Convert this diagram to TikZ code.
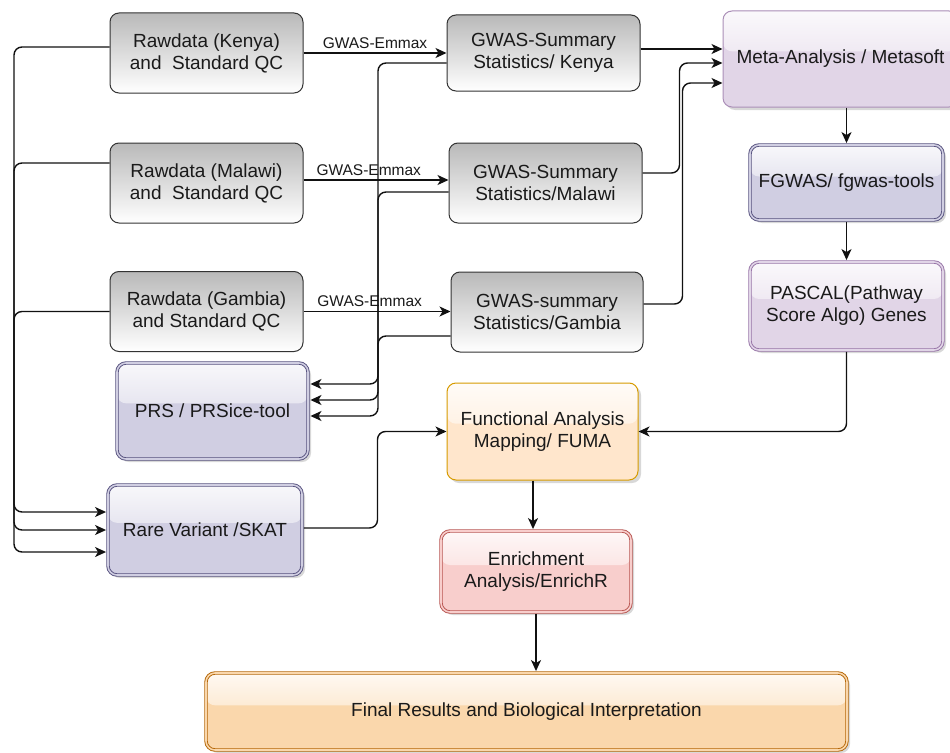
\documentclass[tikz,border=0pt]{standalone}
\usepackage{fontspec}
\setmainfont{Liberation Sans}
\usetikzlibrary{arrows.meta,calc,shadows}
\definecolor{grayline}{HTML}{333333}
\definecolor{txt}{HTML}{1A1A1A}
\definecolor{linec}{HTML}{111111}
\definecolor{lavf}{HTML}{D0CEE2}
\definecolor{lavl}{HTML}{56517E}
\definecolor{purf}{HTML}{E1D5E7}
\definecolor{purl}{HTML}{9673A6}
\definecolor{orf}{HTML}{FFE6CC}
\definecolor{orl}{HTML}{D79B00}
\definecolor{redf}{HTML}{F8CECC}
\definecolor{redl}{HTML}{B85450}
\definecolor{finf}{HTML}{FAD7AC}
\definecolor{finl}{HTML}{B46504}
\newcommand\nodefont{\fontsize{19}{22}\selectfont}
\newcommand\lblfont{\fontsize{15.5}{17}\selectfont}
\begin{document}
\begin{tikzpicture}[x=1pt,y=-1pt,
  box/.style={rectangle, rounded corners=9pt, line width=1pt, align=center, font=\nodefont, text=txt, inner sep=2pt},
  graybox/.style={box, draw=grayline, top color=gray!55, bottom color=white, minimum width=193pt, minimum height=80pt},
  glass/.style={fill=#1, path picture={\shade[top color=white!85!#1, bottom color=#1] (path picture bounding box.north west) rectangle ($(path picture bounding box.north east)!0.42!(path picture bounding box.south east)$);}},
  dbl/.style={double=#1, double distance=1.6pt, line width=0.9pt},
  shad/.style={drop shadow={shadow xshift=3pt, shadow yshift=-3pt, opacity=0.25, fill=black!60}},
  conn/.style={draw=linec, line width=1.4pt, rounded corners=8pt, -{Stealth[length=11pt,width=10pt,inset=3pt]}},
  lbl/.style={font=\lblfont, text=txt, inner sep=1pt}
]
\path[use as bounding box, fill=white] (0,0) rectangle (950,752);

% gray boxes
\node[graybox] (kraw) at (206.5,53) {Rawdata (Kenya)\\and\ \ Standard QC};
\node[graybox] (mraw) at (206.5,183) {Rawdata (Malawi)\\and\ \ Standard QC};
\node[graybox] (graw) at (206.5,311.5) {Rawdata (Gambia)\\and Standard QC};
\node[graybox, minimum height=76pt] (kgw) at (543.5,53) {GWAS-Summary\\Statistics/ Kenya};
\node[graybox] (mgw) at (545.5,183) {GWAS-Summary\\Statistics/Malawi};
\node[graybox, minimum width=192pt] (ggw) at (547,312) {GWAS-summary\\Statistics/Gambia};

% coloured boxes
\node[box, shad, glass=purf, draw=purl!80, minimum width=235pt, minimum height=96pt] (meta) at (840.5,59) {Meta-Analysis / Metasoft};
\node[box, shad, glass=lavf, draw=lavl, dbl=lavf, minimum width=193pt, minimum height=75pt] (fgwas) at (846.5,182.5) {FGWAS/ fgwas-tools};
\node[box, shad, glass=purf, draw=purl, dbl=purf, minimum width=193pt, minimum height=88pt] (pascal) at (846.5,306) {PASCAL(Pathway\\Score Algo) Genes};
\node[box, shad, glass=lavf, draw=lavl, dbl=lavf, minimum width=191pt, minimum height=96pt] (prs) at (212.5,411) {PRS / PRSice-tool};
\node[box, shad, glass=lavf, draw=lavl, dbl=lavf, minimum width=194pt, minimum height=90pt] (rare) at (205,530) {Rare Variant /SKAT};
\node[box, shad, glass=orf, draw=orl, minimum width=191pt, minimum height=97pt] (fuma) at (542.5,431.5) {Functional Analysis\\Mapping/ FUMA};
\node[box, shad, glass=redf, draw=redl, dbl=redf, minimum width=190pt, minimum height=81pt] (enrich) at (536,571.5) {Enrichment\\Analysis/EnrichR};
\node[box, shad, glass=finf, draw=finl, dbl=finf, minimum width=641pt, minimum height=77pt] (final) at (526.5,711.5) {Final Results and Biological Interpretation};

% GWAS-Emmax edges
\draw[conn] (kraw.east) -- node[lbl, above=3pt] {GWAS-Emmax} (kgw.west);
\coordinate (me1) at ([yshift=3pt]mraw.east);
\draw[conn] (me1) -- node[lbl, above=3pt, pos=0.45] {GWAS-Emmax} (me1 -| mgw.west);
\draw[conn] (graw.east) -- node[lbl, above=3pt, pos=0.45] {GWAS-Emmax} (graw.east -| ggw.west);

% left bus to Rare Variant
\coordinate (lbus) at (14,0);
\coordinate (r1) at ([xshift=-1.5pt,yshift=18pt]rare.west);
\coordinate (r2) at ([xshift=-1.5pt]rare.west);
\coordinate (r3) at ([xshift=-1.5pt,yshift=-22pt]rare.west);
\draw[conn] ([yshift=6pt]kraw.west) -| (lbus |- r3) -- (r3);
\draw[conn] ([yshift=20pt]mraw.west) -| (lbus |- r2) -- (r2);
\draw[conn] (graw.west) -| (lbus |- r1) -- (r1);

% summary stats to PRS
\coordinate (pbus) at (378,0);
\coordinate (p1) at ([xshift=2pt,yshift=27pt]prs.east);
\coordinate (p2) at ([xshift=2pt,yshift=11pt]prs.east);
\coordinate (p3) at ([xshift=2pt,yshift=-5pt]prs.east);
\draw[conn] ([yshift=-10pt]kgw.west) -| (pbus |- p1) -- (p1);
\draw[conn] ([yshift=-9pt]mgw.west) -| (pbus |- p2) -- (p2);
\draw[conn] ([yshift=-24pt]ggw.west) -| (pbus |- p3) -- (p3);

% summary stats to Meta
\coordinate (k1) at ([yshift=4pt]kgw.east);
\coordinate (m2) at ([yshift=-4pt]meta.west);
\coordinate (m3) at ([yshift=-24pt]meta.west);
\draw[conn] (k1) -- (k1 -| meta.west);
\draw[conn] ([yshift=10pt]mgw.east) -| ($(m2)+(-43,0)$) -- (m2);
\draw[conn] ([yshift=8pt]ggw.east) -| ($(m3)+(-40,0)$) -- (m3);

% right column
\draw[conn] (meta.south -| fgwas.north) -- ([yshift=1.5pt]fgwas.north);
\draw[conn] ([yshift=-1.5pt]fgwas.south) -- ([yshift=1.5pt]pascal.north);
\draw[conn] ([yshift=-1.5pt]pascal.south) |- (fuma.east);

% rare to FUMA
\coordinate (re) at ([xshift=1.5pt,yshift=2pt]rare.east);
\draw[conn] (re) -| ($(fuma.west)+(-69,0)$) -- (fuma.west);

% down the middle
\coordinate (fe) at ([xshift=-9.5pt]fuma.south);
\draw[conn] (fe) -- ([yshift=1.5pt]fe |- enrich.north);
\draw[conn] ([yshift=-1.5pt]enrich.south) -- ([yshift=1.5pt]enrich.south |- final.north);
\end{tikzpicture}
\end{document}
